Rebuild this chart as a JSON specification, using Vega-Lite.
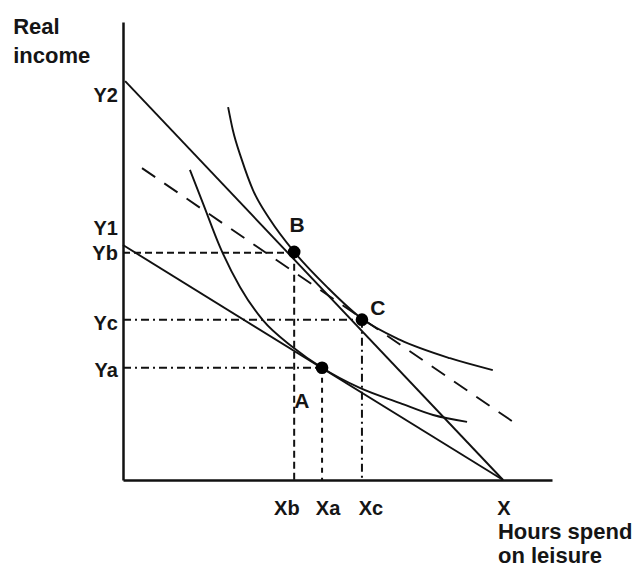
{
  "$schema": "https://vega.github.io/schema/vega-lite/v6.json",
  "width": 429,
  "height": 458,
  "autosize": {"type": "none"},
  "padding": {"left": 123, "top": 22, "right": 85, "bottom": 89},
  "background": "white",
  "config": {
    "view": {"stroke": null},
    "axis": {"labels": false, "ticks": false, "grid": false, "domainColor": "#111", "domainWidth": 2.5},
    "text": {"font": "Liberation Sans", "fontWeight": "bold", "color": "#151515"}
  },
  "datasets": {
    "budget": [
      {"line": "Y2-X", "x": 0.5, "y": 87.1},
      {"line": "Y2-X", "x": 88.6, "y": 0},
      {"line": "Y1-X", "x": 0, "y": 51.3},
      {"line": "Y1-X", "x": 88.6, "y": 0}
    ],
    "compensated": [
      {"x": 4.43, "y": 68.1},
      {"x": 91.4, "y": 12.4}
    ],
    "indifference": [
      {"curve": "I1", "x": 15.6, "y": 67.7},
      {"curve": "I1", "x": 18.6, "y": 60.5},
      {"curve": "I1", "x": 22.6, "y": 50.9},
      {"curve": "I1", "x": 27.3, "y": 42.1},
      {"curve": "I1", "x": 32.6, "y": 34.9},
      {"curve": "I1", "x": 39.6, "y": 29.0},
      {"curve": "I1", "x": 46.4, "y": 24.5},
      {"curve": "I1", "x": 55.2, "y": 20.1},
      {"curve": "I1", "x": 64.6, "y": 16.8},
      {"curve": "I1", "x": 72.3, "y": 14.2},
      {"curve": "I1", "x": 80.2, "y": 12.7},
      {"curve": "I2", "x": 24.5, "y": 81.4},
      {"curve": "I2", "x": 25.6, "y": 76.4},
      {"curve": "I2", "x": 27.7, "y": 69.9},
      {"curve": "I2", "x": 30.3, "y": 63.3},
      {"curve": "I2", "x": 34.3, "y": 56.8},
      {"curve": "I2", "x": 39.9, "y": 49.8},
      {"curve": "I2", "x": 47.6, "y": 42.1},
      {"curve": "I2", "x": 55.7, "y": 35.2},
      {"curve": "I2", "x": 64.6, "y": 30.6},
      {"curve": "I2", "x": 76.2, "y": 26.6},
      {"curve": "I2", "x": 86.2, "y": 24.0}
    ],
    "guides": [
      {"guide": "Yb", "x": 0, "y": 49.6, "x2": 39.9, "y2": 49.6},
      {"guide": "Xb", "x": 39.9, "y": 49.6, "x2": 39.9, "y2": 0},
      {"guide": "Yc", "x": 0, "y": 35.0, "x2": 55.7, "y2": 35.0},
      {"guide": "Xc", "x": 55.7, "y": 35.0, "x2": 55.7, "y2": 0},
      {"guide": "Ya", "x": 0, "y": 24.5, "x2": 46.4, "y2": 24.5},
      {"guide": "Xa", "x": 46.4, "y": 24.5, "x2": 46.4, "y2": 0}
    ],
    "points": [
      {"name": "A", "x": 46.4, "y": 24.5},
      {"name": "B", "x": 39.9, "y": 49.8},
      {"name": "C", "x": 55.7, "y": 35.0}
    ],
    "labels": [
      {"group": "yaxis", "text": "Y2", "x": -1.2, "y": 82.5},
      {"group": "yaxis", "text": "Y1", "x": -1.2, "y": 53.5},
      {"group": "yaxis", "text": "Yb", "x": -1.2, "y": 48.0},
      {"group": "yaxis", "text": "Yc", "x": -1.2, "y": 32.8},
      {"group": "yaxis", "text": "Ya", "x": -1.2, "y": 22.5},
      {"group": "xaxis", "text": "Xb", "x": 38.2, "y": -7.6},
      {"group": "xaxis", "text": "Xa", "x": 47.8, "y": -7.6},
      {"group": "xaxis", "text": "Xc", "x": 57.8, "y": -7.6},
      {"group": "xaxis", "text": "X", "x": 88.8, "y": -7.6},
      {"group": "title", "text": "Real", "x": -25.6, "y": 97.4},
      {"group": "title", "text": "income", "x": -25.6, "y": 91.0},
      {"group": "title", "text": "Hours spend", "x": 87.4, "y": -12.8},
      {"group": "title", "text": "on leisure", "x": 87.4, "y": -18.2}
    ],
    "pointlabels": [
      {"text": "B", "x": 40.6, "y": 54.1},
      {"text": "C", "x": 59.4, "y": 36.0},
      {"text": "A", "x": 41.7, "y": 15.7}
    ]
  },
  "layer": [
    {
      "data": {"name": "budget"},
      "mark": {"type": "line", "color": "#111", "strokeWidth": 1.9},
      "encoding": {
        "x": {"field": "x", "type": "quantitative", "scale": {"domain": [0, 100], "nice": false, "zero": false}, "title": null},
        "y": {"field": "y", "type": "quantitative", "scale": {"domain": [0, 100], "nice": false, "zero": false}, "title": null},
        "detail": {"field": "line"}
      }
    },
    {
      "data": {"name": "compensated"},
      "mark": {"type": "line", "color": "#111", "strokeWidth": 1.9, "strokeDash": [16, 11]},
      "encoding": {
        "x": {"field": "x", "type": "quantitative", "scale": {"domain": [0, 100], "nice": false, "zero": false}, "title": null},
        "y": {"field": "y", "type": "quantitative", "scale": {"domain": [0, 100], "nice": false, "zero": false}, "title": null}
      }
    },
    {
      "data": {"name": "indifference"},
      "mark": {"type": "line", "color": "#111", "strokeWidth": 1.9, "interpolate": "monotone"},
      "encoding": {
        "x": {"field": "x", "type": "quantitative", "scale": {"domain": [0, 100], "nice": false, "zero": false}, "title": null},
        "y": {"field": "y", "type": "quantitative", "scale": {"domain": [0, 100], "nice": false, "zero": false}, "title": null},
        "detail": {"field": "curve"}
      }
    },
    {
      "data": {"name": "guides"},
      "transform": [{"filter": {"field": "guide", "oneOf": ["Yb", "Xb"]}}],
      "mark": {"type": "rule", "color": "#111", "strokeWidth": 2, "strokeDash": [7, 4]},
      "encoding": {
        "x": {"field": "x", "type": "quantitative", "scale": {"domain": [0, 100], "nice": false, "zero": false}, "title": null},
        "y": {"field": "y", "type": "quantitative", "scale": {"domain": [0, 100], "nice": false, "zero": false}, "title": null},
        "x2": {"field": "x2"},
        "y2": {"field": "y2"}
      }
    },
    {
      "data": {"name": "guides"},
      "transform": [{"filter": {"field": "guide", "oneOf": ["Yc", "Xc", "Ya"]}}],
      "mark": {"type": "rule", "color": "#111", "strokeWidth": 2, "strokeDash": [8, 4, 2, 4]},
      "encoding": {
        "x": {"field": "x", "type": "quantitative", "scale": {"domain": [0, 100], "nice": false, "zero": false}, "title": null},
        "y": {"field": "y", "type": "quantitative", "scale": {"domain": [0, 100], "nice": false, "zero": false}, "title": null},
        "x2": {"field": "x2"},
        "y2": {"field": "y2"}
      }
    },
    {
      "data": {"name": "guides"},
      "transform": [{"filter": {"field": "guide", "oneOf": ["Xa"]}}],
      "mark": {"type": "rule", "color": "#111", "strokeWidth": 2, "strokeDash": [5, 5]},
      "encoding": {
        "x": {"field": "x", "type": "quantitative", "scale": {"domain": [0, 100], "nice": false, "zero": false}, "title": null},
        "y": {"field": "y", "type": "quantitative", "scale": {"domain": [0, 100], "nice": false, "zero": false}, "title": null},
        "x2": {"field": "x2"},
        "y2": {"field": "y2"}
      }
    },
    {
      "data": {"name": "points"},
      "mark": {"type": "circle", "color": "#000", "opacity": 1, "size": 160},
      "encoding": {
        "x": {"field": "x", "type": "quantitative", "scale": {"domain": [0, 100], "nice": false, "zero": false}, "title": null},
        "y": {"field": "y", "type": "quantitative", "scale": {"domain": [0, 100], "nice": false, "zero": false}, "title": null}
      }
    },
    {
      "data": {"name": "labels"},
      "transform": [{"filter": {"field": "group", "equal": "yaxis"}}],
      "mark": {"type": "text", "align": "right", "baseline": "alphabetic", "fontSize": 20},
      "encoding": {
        "x": {"field": "x", "type": "quantitative", "scale": {"domain": [0, 100], "nice": false, "zero": false}, "title": null},
        "y": {"field": "y", "type": "quantitative", "scale": {"domain": [0, 100], "nice": false, "zero": false}, "title": null},
        "text": {"field": "text"}
      }
    },
    {
      "data": {"name": "labels"},
      "transform": [{"filter": {"field": "group", "equal": "xaxis"}}],
      "mark": {"type": "text", "align": "center", "baseline": "alphabetic", "fontSize": 20},
      "encoding": {
        "x": {"field": "x", "type": "quantitative", "scale": {"domain": [0, 100], "nice": false, "zero": false}, "title": null},
        "y": {"field": "y", "type": "quantitative", "scale": {"domain": [0, 100], "nice": false, "zero": false}, "title": null},
        "text": {"field": "text"}
      }
    },
    {
      "data": {"name": "pointlabels"},
      "mark": {"type": "text", "align": "center", "baseline": "alphabetic", "fontSize": 21},
      "encoding": {
        "x": {"field": "x", "type": "quantitative", "scale": {"domain": [0, 100], "nice": false, "zero": false}, "title": null},
        "y": {"field": "y", "type": "quantitative", "scale": {"domain": [0, 100], "nice": false, "zero": false}, "title": null},
        "text": {"field": "text"}
      }
    },
    {
      "data": {"name": "labels"},
      "transform": [{"filter": {"field": "group", "equal": "title"}}],
      "mark": {"type": "text", "align": "left", "baseline": "alphabetic", "fontSize": 22},
      "encoding": {
        "x": {"field": "x", "type": "quantitative", "scale": {"domain": [0, 100], "nice": false, "zero": false}, "title": null},
        "y": {"field": "y", "type": "quantitative", "scale": {"domain": [0, 100], "nice": false, "zero": false}, "title": null},
        "text": {"field": "text"}
      }
    }
  ]
}
